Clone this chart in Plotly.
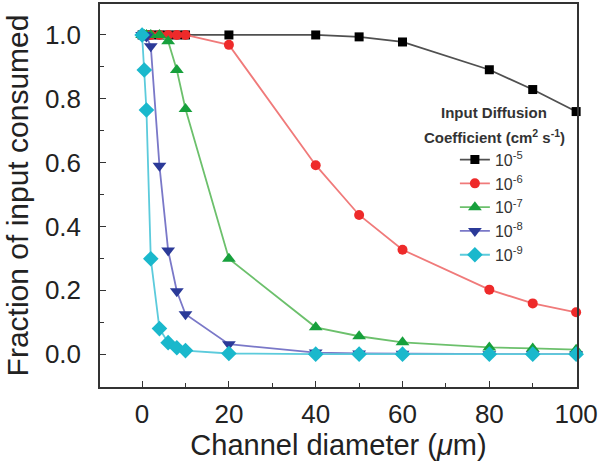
import plotly.graph_objects as go

x_diam = [0, 0.5, 1, 2, 4, 6, 8, 10, 20, 40, 50, 60, 80, 90, 100]
d_1e5 = [1, 1, 1, 1, 1, 1, 1, 1, 1.0, 1.0, 0.994, 0.978, 0.891, 0.829, 0.760]
d_1e6 = [1, 1, 1, 1, 1, 1, 1, 1, 0.969, 0.592, 0.436, 0.327, 0.202, 0.159, 0.131]
d_1e7 = [1, 1, 1, 1, 1, 0.98, 0.89, 0.768, 0.299, 0.084, 0.056, 0.037, 0.021, 0.018, 0.014]
d_1e8 = [1, 1, 0.995, 0.965, 0.59, 0.325, 0.197, 0.125, 0.031, 0.005, 0.002, 0.001, 0, 0, 0]
d_1e9 = [1, 0.89, 0.765, 0.299, 0.08, 0.036, 0.02, 0.011, 0.002, 0, 0, 0, 0, 0, 0]

names = ["10<sup>-5</sup>", "10<sup>-6</sup>", "10<sup>-7</sup>", "10<sup>-8</sup>", "10<sup>-9</sup>"]
series = [d_1e5, d_1e6, d_1e7, d_1e8, d_1e9]
marker_colors = ["#000000", "#ee2a2a", "#17a03c", "#2b3a98", "#1ab8cc"]
line_colors = ["#505050", "#f07a7a", "#6cc06c", "#7a78c8", "#5ccbdc"]
symbols = ["square", "circle", "triangle-up", "triangle-down", "diamond"]
sizes = [9, 10, 12, 12, 12]

FONT = "Liberation Sans, Arial, sans-serif"

fig = go.Figure()
for nm, ys, mc, lc, sym, sz in zip(names, series, marker_colors, line_colors, symbols, sizes):
    fig.add_trace(go.Scatter(
        x=x_diam, y=ys, name=nm, mode="lines+markers",
        line=dict(color=lc, width=1.8),
        marker=dict(color=mc, symbol=sym, size=sz, line=dict(width=0)),
        cliponaxis=False,
    ))

axis_common = dict(
    showline=True, linecolor="#333333", linewidth=1.5, mirror=True,
    ticks="inside", ticklen=6, tickwidth=1.2, tickcolor="#333333",
    showgrid=False, zeroline=False,
    tickfont=dict(family=FONT, size=26, color="#222222"),
)

fig.update_xaxes(
    range=[-9.7, 100.2], tickvals=[0, 20, 40, 60, 80, 100],
    minor=dict(ticks="inside", ticklen=4, tickwidth=1.2, tickcolor="#333333", tickvals=[10, 30, 50, 70, 90]),
    title=dict(text="Channel diameter (<i>μ</i>m)", font=dict(family=FONT, size=29, color="#222222"), standoff=7),
    ticklabelstandoff=3,
    **axis_common,
)
fig.update_yaxes(
    range=[-0.103, 1.097], tickvals=[0, 0.2, 0.4, 0.6, 0.8, 1.0], tickformat=".1f",
    minor=dict(ticks="inside", ticklen=4, tickwidth=1.2, tickcolor="#333333", tickvals=[0.1, 0.3, 0.5, 0.7, 0.9]),
    title=dict(text="Fraction of input consumed", font=dict(family=FONT, size=30, color="#222222"), standoff=7),
    ticklabelstandoff=12,
    **axis_common,
)

fig.add_annotation(xref="paper", yref="paper", x=0.826, y=(387 - 111) / 385,
                   text="<b>Input Diffusion</b>", showarrow=False,
                   font=dict(family=FONT, size=15, color="#333333"), xanchor="center", yanchor="middle")
fig.add_annotation(xref="paper", yref="paper", x=0.826, y=(387 - 135) / 385,
                   text="<b>Coefficient (cm<sup>2</sup> s<sup>-1</sup>)</b>", showarrow=False,
                   font=dict(family=FONT, size=15, color="#333333"), xanchor="center", yanchor="middle")

fig.update_layout(
    width=600, height=461,
    margin=dict(l=100, r=23, t=2, b=74),
    paper_bgcolor="white", plot_bgcolor="white",
    font=dict(family=FONT, color="#222222"),
    legend=dict(x=0.744, y=0.638, xanchor="left", yanchor="top",
                bgcolor="rgba(0,0,0,0)", borderwidth=0,
                font=dict(family=FONT, size=16, color="#333333"),
                tracegroupgap=0),
)

fig.write_html("out.html", config={"displayModeBar": False},
               post_script="document.body.style.margin='0px';document.body.style.padding='0px';")
